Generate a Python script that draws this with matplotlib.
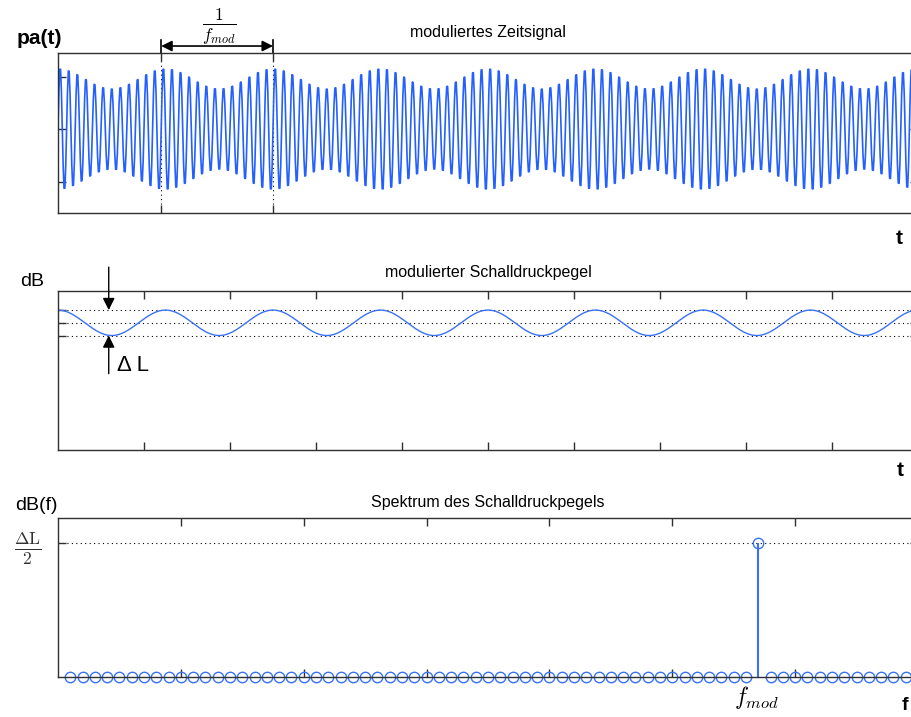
import numpy as np
import matplotlib
matplotlib.use("Agg")
import matplotlib.pyplot as plt

# signal parameters
f_mod = 8            # modulation frequency (Hz), 1.25 ticks per period
f_carrier = 100      # carrier frequency (Hz), ~12.5 cycles per mod period
fs = 1000            # sample rate of the plotted signal
mod_depth = 0.2      # envelope swings between 0.8 and 1.2
top_yticks = [-1, 0, 1]
period_marks = [0.12, 0.25]     # dotted lines marking 1/f_mod

level_mean = 0.8
delta_L = 0.16
level_ticks = [level_mean - delta_L / 2, level_mean, level_mean + delta_L / 2]
time_ticks = [0.1, 0.2, 0.3, 0.4, 0.5, 0.6, 0.7, 0.8, 0.9]

# spectrum of the level: one line at f_mod
spec_bins = list(range(1, 71))
spec_vals = [0] * 56 + [1] + [0] * 13
fmod_bin = 57
spec_ticks = [10, 20, 30, 40, 50, 60]

BLUE = "#2460ff"
LBLUE = "#3a72f2"

plt.rcParams['font.family'] = ['Liberation Sans', 'DejaVu Sans']
plt.rcParams['mathtext.fontset'] = 'cm'


def fx(px):
    return px / 912


def fy(py):
    return 1 - py / 717


def style(ax):
    for s in ax.spines.values():
        s.set_linewidth(1.0)
        s.set_color("#303030")
    ax.tick_params(direction='in', length=6, width=1, top=True, right=True,
                   labelbottom=False, labelleft=False, colors="#303030")


fig = plt.figure(figsize=(9.12, 7.17), dpi=100)

# --- moduliertes Zeitsignal
ax1 = fig.add_axes([fx(58), fy(213), 860 / 912, 160 / 717])
t = np.arange(0, 1.0 + 1 / fs, 1 / fs)
env = 1 + mod_depth * np.cos(2 * np.pi * f_mod * t)
sig = env * np.sin(2 * np.pi * f_carrier * t)
ax1.plot(t, sig, color=BLUE, lw=1.2)
ax1.set_xlim(0, 1)
ax1.set_ylim(-1.6, 1.45)
ax1.set_xticks(period_marks)
ax1.set_yticks(top_yticks)
style(ax1)
ax1.grid(axis='x', linestyle=(0, (1, 3)), color='k', lw=0.8)
ax1.set_axisbelow(True)

# 1/f_mod annotation above the axes
ya, yv0, yv1 = 1.583, 1.45, 1.70
for xm in period_marks:
    ax1.plot([xm, xm], [yv0, yv1], color='k', lw=1.2, clip_on=False)
ax1.annotate("", xy=(period_marks[0], ya), xytext=(period_marks[1], ya),
             arrowprops=dict(arrowstyle='<|-|>', color='k', lw=1.2,
                             mutation_scale=16, shrinkA=0, shrinkB=0),
             annotation_clip=False)
ax1.text(sum(period_marks) / 2 + 0.003, 1.93, r"$\frac{1}{f_{mod}}$",
         ha='center', va='center', fontsize=18, clip_on=False)

# --- modulierter Schalldruckpegel
ax2 = fig.add_axes([fx(58), fy(450), 860 / 912, 159 / 717])
level = level_mean + delta_L / 2 * np.cos(2 * np.pi * f_mod * t)
ax2.plot(t, level, color=LBLUE, lw=1.0)
ax2.set_xlim(0, 1)
ax2.set_ylim(0, 1)
ax2.set_xticks(time_ticks)
ax2.set_yticks(level_ticks)
style(ax2)
ax2.grid(axis='y', linestyle=(0, (1, 3)), color='k', lw=0.8)
ax2.set_axisbelow(True)

xa = 0.059
ax2.annotate("", xy=(xa, level_ticks[2]), xytext=(xa, 1.15),
             arrowprops=dict(arrowstyle='-|>', color='k', lw=1.0,
                             mutation_scale=18, shrinkA=0, shrinkB=0),
             annotation_clip=False)
ax2.annotate("", xy=(xa, level_ticks[0]), xytext=(xa, 0.48),
             arrowprops=dict(arrowstyle='-|>', color='k', lw=1.0,
                             mutation_scale=18, shrinkA=0, shrinkB=0),
             annotation_clip=False)
ax2.text(0.069, 0.53, "Δ L", ha='left', va='center', fontsize=16)

# --- Spektrum des Schalldruckpegels
ax3 = fig.add_axes([fx(58), fy(677), 860 / 912, 159 / 717])
ml, sl, bl = ax3.stem(spec_bins, spec_vals, linefmt='-', markerfmt='o',
                      basefmt=' ')
ml.set_color(LBLUE)
ml.set_markerfacecolor('none')
ml.set_markersize(7.5)
ml.set_markeredgewidth(1.0)
ml.set_clip_on(False)
sl.set_color(LBLUE)
sl.set_linewidth(1.5)
ax3.set_xlim(0, 70)
ax3.set_ylim(0, 1.187)
ax3.set_xticks(spec_ticks)
ax3.set_yticks([1])
style(ax3)
ax3.tick_params(labelleft=True, pad=12)
ax3.set_yticklabels([r"$\frac{\Delta\mathrm{L}}{2}$"], fontsize=18)
ax3.grid(axis='y', linestyle=(0, (1, 3)), color='k', lw=0.8)
ax3.set_axisbelow(True)
ax3.text(fmod_bin - 0.2, -0.15, r"$f_{mod}$", ha='center', va='center',
         fontsize=17)

# titles and axis captions
fig.text(fx(488), fy(33), "moduliertes Zeitsignal", ha='center', va='center',
         fontsize=11.5)
fig.text(fx(488), fy(272), "modulierter Schalldruckpegel", ha='center',
         va='center', fontsize=11.5)
fig.text(fx(488), fy(502), "Spektrum des Schalldruckpegels", ha='center',
         va='center', fontsize=11.5)

fig.text(fx(17), fy(38), "pa(t)", ha='left', va='center', fontsize=15,
         fontweight='bold')
fig.text(fx(896), fy(239), "t", ha='left', va='center', fontsize=15,
         fontweight='bold')
fig.text(fx(20), fy(281), "dB", ha='left', va='center', fontsize=14)
fig.text(fx(897), fy(470), "t", ha='left', va='center', fontsize=15,
         fontweight='bold')
fig.text(fx(15), fy(505), "dB(f)", ha='left', va='center', fontsize=14)
fig.text(fx(902), fy(705), "f", ha='left', va='center', fontsize=14,
         fontweight='bold')

fig.savefig("out.png", dpi=100)
